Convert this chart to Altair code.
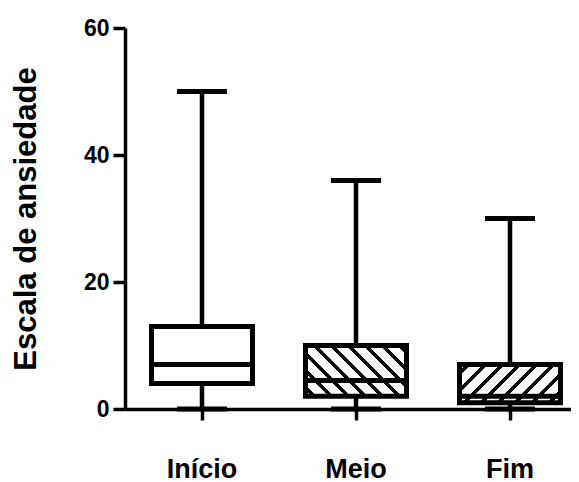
import altair as alt
import pandas as pd

# ---- data ----
categories = ["Início", "Meio", "Fim"]
whisker_low = [0, 0, 0]
q1 = [4, 2, 1]
median = [7, 4.5, 2]
q3 = [13, 10, 7]
whisker_high = [50, 36, 30]
y_ticks = [0, 20, 40, 60]
y_title = "Escala de ansiedade"

df = pd.DataFrame({
    "cat": categories,
    "lo": whisker_low,
    "q1": q1,
    "med": median,
    "q3": q3,
    "hi": whisker_high,
})

# ---- layout / style ----
W, H = 446, 381
YMAX = 60
BOX = 101
CAP = 50
LW = 4.5
BOX_LW = 5
PX = H / YMAX
FONT = "Liberation Sans"


def hatch(q1v, q3v, direction, period=17.0, lw=5.5, phase=6.0):
    """Striped fill built as a linear gradient with hard stops (45 degree in pixels)."""
    w = BOX
    h = (q3v - q1v) * PX
    a = (w + h) / (w * w + h * h)
    total = w + h
    stops = [{"offset": 0, "color": "white"}]
    s = phase - period
    while s < total:
        s0, s1 = max(s, 0.0), min(s + lw, total)
        if s1 > 0 and s0 < total:
            t0, t1 = round(s0 / total, 5), round(s1 / total, 5)
            stops += [
                {"offset": t0, "color": "white"},
                {"offset": t0, "color": "black"},
                {"offset": t1, "color": "black"},
                {"offset": t1, "color": "white"},
            ]
        s += period
    stops.append({"offset": 1, "color": "white"})
    if direction == "/":
        return {"gradient": "linear", "x1": 0, "y1": 0,
                "x2": round(a * w, 5), "y2": round(a * h, 5), "stops": stops}
    return {"gradient": "linear", "x1": 0, "y1": 1,
            "x2": round(a * w, 5), "y2": round(1 - a * h, 5), "stops": stops}


x_enc = alt.X(
    "cat:N",
    sort=categories,
    scale=alt.Scale(type="band", range=[0, 462], paddingInner=0, paddingOuter=0),
    axis=alt.Axis(
        title=None,
        labelAngle=0,
        labelFont=FONT,
        labelFontSize=27,
        labelFontWeight="bold",
        labelColor="black",
        labelBaseline="alphabetic",
        labelPadding=57,
        tickSize=11,
        tickWidth=3.5,
        tickColor="black",
        domainWidth=3.5,
        domainColor="black",
        grid=False,
    ),
)

y_scale = alt.Scale(domain=[0, YMAX], nice=False, zero=True)

base = alt.Chart(df)

lower_whisker = base.mark_rule(color="black", strokeWidth=LW).encode(
    x=x_enc,
    y=alt.Y(
        "lo:Q",
        scale=y_scale,
        axis=alt.Axis(
            values=y_ticks,
            title=y_title,
            titleFont=FONT,
            titleFontSize=31,
            titleFontWeight="bold",
            titleColor="black",
            titleAngle=270,
            titleBaseline="alphabetic",
            titleX=-90,
            titleY=H / 2,
            titleAlign="center",
            labelFont=FONT,
            labelFontSize=23,
            labelFontWeight="bold",
            labelColor="black",
            labelPadding=4,
            tickSize=12,
            tickWidth=3.5,
            tickColor="black",
            domainWidth=3.5,
            domainColor="black",
            grid=False,
        ),
    ),
    y2="q1:Q",
)

upper_whisker = base.mark_rule(color="black", strokeWidth=LW).encode(
    x=alt.X("cat:N", sort=categories), y=alt.Y("q3:Q"), y2="hi:Q"
)


def box(cat, fill):
    return base.transform_filter(alt.datum.cat == cat).mark_bar(
        fill=fill, stroke="black", strokeWidth=BOX_LW, size=BOX, strokeJoin="miter"
    ).encode(x=alt.X("cat:N", sort=categories), y=alt.Y("q1:Q"), y2="q3:Q")


box_ini = box(categories[0], "white")
box_meio = box(categories[1], hatch(q1[1], q3[1], "\\"))
box_fim = box(categories[2], hatch(q1[2], q3[2], "/"))

median_tick = base.mark_tick(color="black", thickness=BOX_LW, size=BOX, opacity=1).encode(
    x=alt.X("cat:N", sort=categories), y=alt.Y("med:Q")
)
cap_low = base.mark_tick(color="black", thickness=BOX_LW, size=CAP, opacity=1).encode(
    x=alt.X("cat:N", sort=categories), y=alt.Y("lo:Q")
)
cap_high = base.mark_tick(color="black", thickness=BOX_LW, size=CAP, opacity=1).encode(
    x=alt.X("cat:N", sort=categories), y=alt.Y("hi:Q")
)

chart = (
    alt.layer(lower_whisker, upper_whisker, box_ini, box_meio, box_fim,
              median_tick, cap_low, cap_high)
    .properties(
        width=W,
        height=H,
        autosize=alt.AutoSizeParams(type="none"),
        padding={"left": 117, "top": 20, "right": 0, "bottom": 73},
        background="white",
    )
    .configure_view(stroke=None)
)

chart.save("out.html", embed_options={"renderer": "svg", "actions": False})
